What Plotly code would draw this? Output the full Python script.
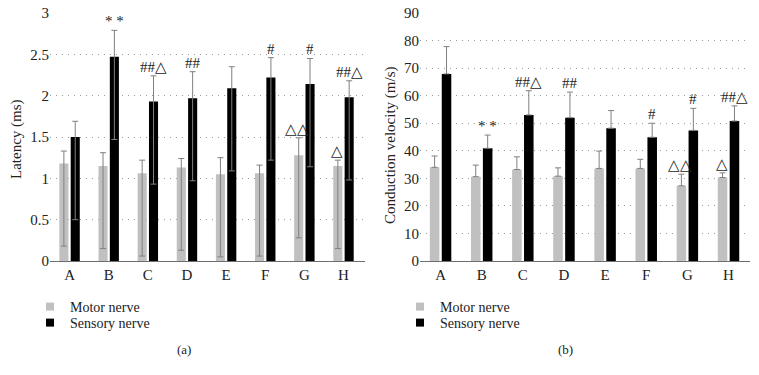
import plotly.graph_objects as go

groups = ["A", "B", "C", "D", "E", "F", "G", "H"]

# Panel (a): latency (ms)
lat_motor = [1.18, 1.15, 1.06, 1.13, 1.05, 1.06, 1.28, 1.15]
lat_motor_err_up = [0.15, 0.16, 0.16, 0.11, 0.20, 0.10, 0.21, 0.07]
lat_sensory = [1.50, 2.47, 1.93, 1.97, 2.09, 2.22, 2.14, 1.98]
lat_sensory_err_up = [0.19, 0.32, 0.31, 0.32, 0.26, 0.24, 0.31, 0.20]
lat_err_down = [1.0] * 8

# Panel (b): conduction velocity (m/s)
vel_motor = [34.0, 30.6, 33.2, 30.8, 33.6, 33.6, 27.3, 30.3]
vel_motor_err = [4.1, 4.2, 4.6, 3.0, 6.3, 3.3, 4.2, 1.7]
vel_sensory = [67.9, 40.9, 53.0, 52.0, 48.2, 44.9, 47.4, 50.8]
vel_sensory_err = [9.9, 4.8, 8.8, 9.3, 6.4, 5.1, 8.0, 5.5]

# significance marks
lat_sensory_marks = ["", "* *", "##△", "##", "", "#", "#", "##△"]
lat_motor_marks = ["", "", "", "", "", "", "△△", "△"]
vel_sensory_marks = ["", "* *", "##△", "##", "", "#", "#", "##△"]
vel_motor_marks = ["", "", "", "", "", "", "△△", "△"]

GRAY = "#c0c0c0"
BLACK = "#000000"
ERR = "#808080"
FONT = "Liberation Serif"
TXT = "#222222"
W, H = 759, 375

fig = go.Figure()

def err(plus, minus):
    return dict(type="data", array=plus, arrayminus=minus, symmetric=False,
                color=ERR, thickness=1, width=3)

fig.add_trace(go.Bar(x=groups, y=lat_motor, marker_color=GRAY, marker_line_width=0,
                     error_y=err(lat_motor_err_up, lat_err_down),
                     xaxis="x", yaxis="y", showlegend=False, name="Motor nerve"))
fig.add_trace(go.Bar(x=groups, y=lat_sensory, marker_color=BLACK, marker_line_width=0,
                     error_y=err(lat_sensory_err_up, lat_err_down),
                     xaxis="x", yaxis="y", showlegend=False, name="Sensory nerve"))
fig.add_trace(go.Bar(x=groups, y=vel_motor, marker_color=GRAY, marker_line_width=0,
                     error_y=err(vel_motor_err, [0] * 8),
                     xaxis="x2", yaxis="y2", showlegend=False, name="Motor nerve"))
fig.add_trace(go.Bar(x=groups, y=vel_sensory, marker_color=BLACK, marker_line_width=0,
                     error_y=err(vel_sensory_err, [0] * 8),
                     xaxis="x2", yaxis="y2", showlegend=False, name="Sensory nerve"))

# legend entries (small square symbols), one legend per entry for tight spacing
legend_specs = [
    ("legend", "x", "y", "Motor nerve", GRAY),
    ("legend2", "x", "y", "Sensory nerve", BLACK),
    ("legend3", "x2", "y2", "Motor nerve", GRAY),
    ("legend4", "x2", "y2", "Sensory nerve", BLACK),
]
for lg, xa, ya, nm, col in legend_specs:
    fig.add_trace(go.Scatter(x=[None], y=[None], mode="markers", name=nm,
                             marker=dict(symbol="square", size=8, color=col),
                             xaxis=xa, yaxis=ya, legend=lg))

annotations = []
def add_marks(marks, vals, errs, xref, yref, shift):
    for g, m, v, e in zip(groups, marks, vals, errs):
        if m:
            annotations.append(dict(x=g, y=v + e, xref=xref, yref=yref, text=m,
                                    showarrow=False, yanchor="bottom", xanchor="center",
                                    xshift=shift, yshift=-1,
                                    font=dict(family=FONT, size=15, color=TXT)))

add_marks(lat_sensory_marks, lat_sensory, lat_sensory_err_up, "x", "y", 6)
add_marks(lat_motor_marks, lat_motor, lat_motor_err_up, "x", "y", -7)
add_marks(vel_sensory_marks, vel_sensory, vel_sensory_err, "x2", "y2", 6)
add_marks(vel_motor_marks, vel_motor, vel_motor_err, "x2", "y2", -7)

def paper_text(text, xpx, ypx, size, angle=0):
    return dict(text=text, x=xpx / W, y=(H - ypx) / H, xref="paper", yref="paper",
                xanchor="center", yanchor="middle", textangle=angle, showarrow=False,
                font=dict(family=FONT, size=size, color=TXT))

annotations += [
    paper_text("Latency (ms)", 16, 139, 15, -90),
    paper_text("Conduction velocity (m/s)", 390, 146, 15, -90),
    paper_text("(a)", 184, 349, 13),
    paper_text("(b)", 565, 349, 13),
]

yax_common = dict(showgrid=True, gridcolor="#9a9a9a", griddash="1px,5px", gridwidth=1,
                  zeroline=False, showline=False, ticks="", automargin=False,
                  tickfont=dict(family=FONT, size=15, color=TXT))
xax_common = dict(showline=True, linecolor="#6e6e6e", linewidth=1, ticks="",
                  showgrid=False, automargin=False,
                  tickfont=dict(family=FONT, size=15, color=TXT))

y0 = (H - 261) / H
y1 = (H - 13) / H

def leg(xpx, ypx):
    return dict(x=xpx / W, y=(H - ypx) / H, xanchor="left", yanchor="middle",
                bgcolor="rgba(0,0,0,0)", borderwidth=0,
                font=dict(family=FONT, size=14, color=TXT))

fig.update_layout(
    width=W, height=H,
    margin=dict(l=0, r=0, t=0, b=0, autoexpand=False),
    paper_bgcolor="white", plot_bgcolor="white",
    barmode="group", bargap=0.42, bargroupgap=0.2,
    font=dict(family=FONT, color=TXT),
    xaxis=dict(domain=[50 / W, 365 / W], anchor="y", **xax_common),
    yaxis=dict(domain=[y0, y1], anchor="x", range=[0, 3], dtick=0.5, **yax_common),
    xaxis2=dict(domain=[420 / W, 750 / W], anchor="y2", **xax_common),
    yaxis2=dict(domain=[y0, y1], anchor="x2", range=[0, 90], dtick=10, **yax_common),
    legend=leg(30, 307),
    legend2=leg(30, 323),
    legend3=leg(400, 307),
    legend4=leg(400, 323),
    annotations=annotations,
)

fig.write_html("out.html", config={"displayModeBar": False},
               post_script="document.body.style.margin='0';document.body.style.overflow='hidden';")
